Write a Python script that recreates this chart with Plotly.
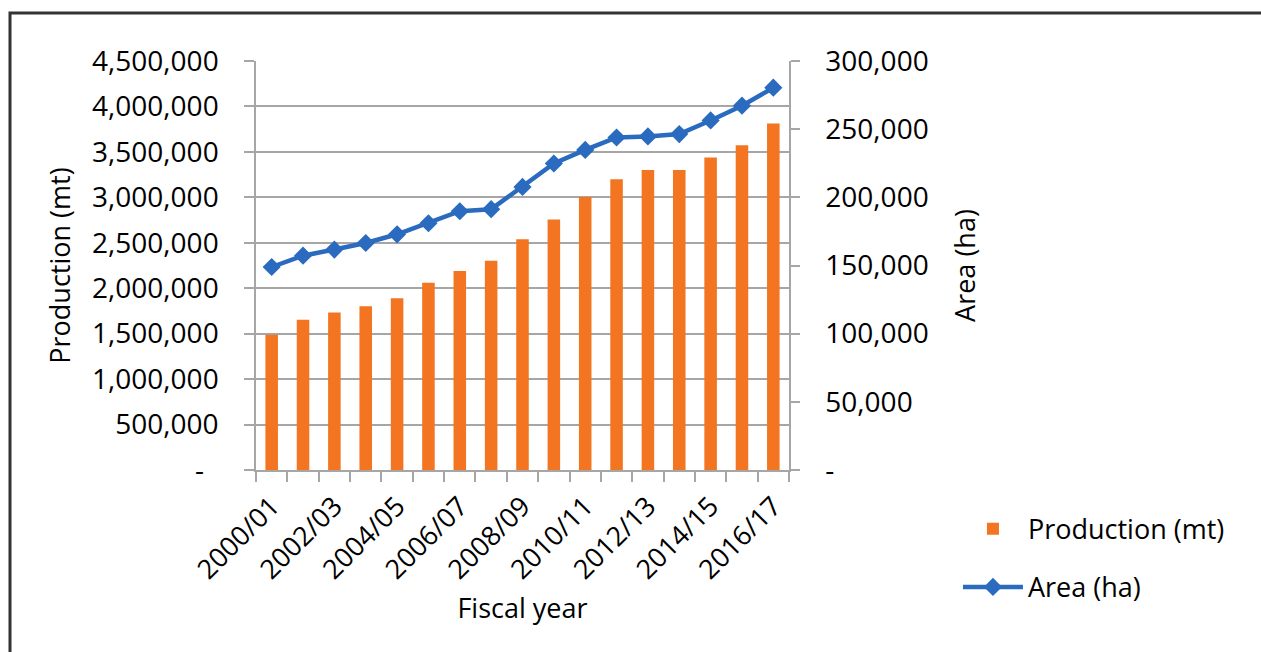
import plotly.graph_objects as go

years = ["2000/01", "2001/02", "2002/03", "2003/04", "2004/05", "2005/06", "2006/07",
         "2007/08", "2008/09", "2009/10", "2010/11", "2011/12", "2012/13", "2013/14",
         "2014/15", "2015/16", "2016/17"]
production_mt = [1488000, 1653000, 1734000, 1803000, 1891000, 2061000, 2189000, 2303000,
                 2538000, 2755000, 3004000, 3200000, 3302000, 3302000, 3439000, 3574000, 3813000]
area_ha = [148900, 157200, 161700, 166500, 172900, 181000, 189800, 191300, 207600,
           224800, 234800, 243900, 244700, 246400, 256400, 267200, 280400]

left_ticks = [0, 500000, 1000000, 1500000, 2000000, 2500000, 3000000, 3500000, 4000000, 4500000]
left_text = ["-\u00a0\u00a0"] + [f"{v:,}" for v in left_ticks[1:]]
right_ticks = [0, 50000, 100000, 150000, 200000, 250000, 300000]
right_text = ["-"] + [f"{v:,}" for v in right_ticks[1:]]
x_text = [y if i % 2 == 0 else "" for i, y in enumerate(years)]

ORANGE = "#F37521"
BLUE = "#2A6BBF"
GRID = "#A6A6A6"
FONT = "Open Sans"
FS = 27
TFS = 28

fig = go.Figure()
fig.add_trace(go.Bar(x=years, y=production_mt, name="Production (mt)",
                     marker=dict(color=ORANGE, line=dict(width=0)),
                     legendgroup="a", yaxis="y"))
fig.add_trace(go.Scatter(x=years, y=area_ha, name="Area (ha)", mode="lines+markers",
                         line=dict(color=BLUE, width=4.5),
                         marker=dict(symbol="diamond", size=14, color=BLUE),
                         legendgroup="b", yaxis="y2"))

fig.update_layout(
    width=1261, height=652,
    margin=dict(l=256, r=472, t=61, b=182),
    paper_bgcolor="white", plot_bgcolor="white",
    font=dict(family=FONT, size=FS, color="black"),
    bargap=0.6,
    showlegend=True,
    legend=dict(x=1.317, y=-0.085, xanchor="left", yanchor="top",
                font=dict(family=FONT, size=FS, color="black"),
                itemwidth=60, traceorder="grouped", tracegroupgap=20,
                bgcolor="rgba(0,0,0,0)"),
    xaxis=dict(type="category", range=[-0.5, len(years) - 0.5],
               tickmode="array", tickvals=years, ticktext=x_text,
               tickangle=-45, tickson="boundaries", ticks="outside", ticklen=10,
               tickcolor=GRID, tickwidth=1.5, ticklabelstandoff=8,
               showline=True, linecolor=GRID, linewidth=1.5, showgrid=False,
               title=dict(text="Fiscal year", standoff=14,
                          font=dict(family=FONT, size=FS)),
               tickfont=dict(family=FONT, size=TFS - 1)),
    yaxis=dict(range=[0, 4500000], tickmode="array", tickvals=left_ticks, ticktext=left_text,
               showgrid=True, gridcolor=GRID, gridwidth=1.5,
               showline=True, linecolor=GRID, linewidth=1.5,
               ticks="outside", ticklen=10, tickcolor=GRID, tickwidth=1.5,
               ticklabelstandoff=20, zeroline=False,
               title=dict(text="Production (mt)", standoff=14,
                          font=dict(family=FONT, size=FS)),
               tickfont=dict(family=FONT, size=TFS)),
    yaxis2=dict(range=[0, 300000], overlaying="y", side="right", tickmode="array",
                tickvals=right_ticks, ticktext=right_text, showgrid=False,
                showline=True, linecolor=GRID, linewidth=1.5,
                ticks="outside", ticklen=9, tickcolor=GRID, tickwidth=1.5,
                ticklabelstandoff=20, zeroline=False,
                title=dict(text="Area (ha)", standoff=28,
                           font=dict(family=FONT, size=FS)),
                tickfont=dict(family=FONT, size=TFS)),
    shapes=[dict(type="rect", xref="paper", yref="paper",
                 x0=(10 - 256) / 533, x1=1.95, y0=-0.6, y1=(470 - 13) / 409,
                 line=dict(color="#333333", width=3), fillcolor="rgba(0,0,0,0)",
                 layer="below")],
)

fig.write_html("out.html")
